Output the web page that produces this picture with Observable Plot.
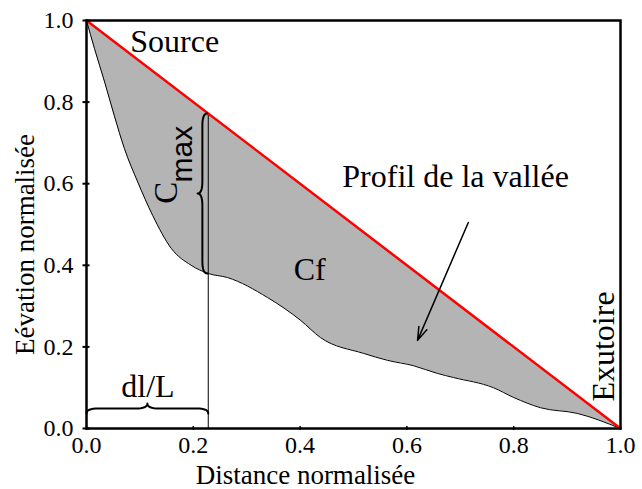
<!DOCTYPE html>
<html>
<head>
<meta charset="utf-8">
<script src="https://cdn.jsdelivr.net/npm/d3@7"></script>
<script src="https://cdn.jsdelivr.net/npm/@observablehq/plot@0.6"></script>
<style>
  html, body { margin: 0; padding: 0; background: #ffffff; }
  #chart svg { display: block; }
</style>
</head>
<body>
<div id="chart"></div>
<script>
// ---- Data ----
const distance  = [0, 0.015, 0.034, 0.052, 0.071, 0.096, 0.124, 0.159, 0.196, 0.228, 0.264, 0.339, 0.401, 0.438, 0.519, 0.564, 0.612, 0.657, 0.687, 0.762, 0.800, 0.850, 0.919, 1.0];
const elevation = [1.0, 0.931, 0.849, 0.767, 0.686, 0.604, 0.522, 0.441, 0.400, 0.380, 0.370, 0.321, 0.265, 0.223, 0.184, 0.167, 0.154, 0.135, 0.125, 0.100, 0.076, 0.051, 0.037, 0.0];
const sourceLineX = [0, 1];
const sourceLineY = [1, 0];
const xTicks = [0, 0.2, 0.4, 0.6, 0.8, 1.0];
const yTicks = [0, 0.2, 0.4, 0.6, 0.8, 1.0];
const dlRatio = 0.228;        // dl/L, position of maximal concavity
const cmaxLow = 0.380;        // profile elevation at dl/L

// straight line from source to outlet
const chord = x => sourceLineY[0] + (sourceLineY[1] - sourceLineY[0]) * (x - sourceLineX[0]) / (sourceLineX[1] - sourceLineX[0]);

const profile = distance.map((d, i) => ({x: d, y: elevation[i], c: chord(d)}));
const sourceLine = sourceLineX.map((x, i) => ({x, y: sourceLineY[i]}));

// curly brace generator: from s0 to s1 along the brace, depth h toward tip, end hook length a
function bracePoints(s0, s1, base, h, a, horizontal) {
  const pts = [];
  const L = s1 - s0, m = s0 + L / 2, dir = Math.sign(L);
  const quad = (p0, p1, p2) => { for (let k = 0; k <= 8; k++) { const t = k / 8;
      pts.push([(1-t)*(1-t)*p0[0] + 2*(1-t)*t*p1[0] + t*t*p2[0], (1-t)*(1-t)*p0[1] + 2*(1-t)*t*p1[1] + t*t*p2[1]]); } };
  quad([s0, 0], [s0, h/2], [s0 + dir*a, h/2]);
  pts.push([m - dir*a, h/2]);
  quad([m - dir*a, h/2], [m, h/2], [m, h]);
  quad([m, h], [m, h/2], [m + dir*a, h/2]);
  pts.push([s1 - dir*a, h/2]);
  quad([s1 - dir*a, h/2], [s1, h/2], [s1, 0]);
  return pts.map(([s, v]) => horizontal ? {x: s, y: base + v} : {x: base + v, y: s});
}
const braceDl = bracePoints(0, dlRatio, 0.037, 0.024, 0.022, true);
const braceCmax = bracePoints(cmaxLow, chord(dlRatio), dlRatio - 0.002, -0.018, 0.03, false);

const serif = "Liberation Serif, Times New Roman, serif";
const fmt = d3.format(".1f");

const chart = Plot.plot({
  width: 642,
  height: 489,
  marginLeft: 86,
  marginRight: 22,
  marginTop: 20,
  marginBottom: 61,
  x: {domain: [0, 1], axis: null},
  y: {domain: [0, 1], axis: null},
  marks: [
    Plot.areaY(profile, {x: "x", y1: "y", y2: "c", fill: "#b4b4b4", curve: "monotone-x"}),
    Plot.line(profile, {x: "x", y: "y", stroke: "#000", strokeWidth: 1, curve: "monotone-x"}),
    Plot.ruleX([dlRatio], {y1: 0, y2: chord(dlRatio), stroke: "#000", strokeWidth: 1}),
    Plot.line(sourceLine, {x: "x", y: "y", stroke: "#ff0000", strokeWidth: 2.5}),
    Plot.line(braceDl, {x: "x", y: "y", stroke: "#000", strokeWidth: 2}),
    Plot.line(braceCmax, {x: "x", y: "y", stroke: "#000", strokeWidth: 2}),
    Plot.arrow([{x1: 0.715, y1: 0.505, x2: 0.620, y2: 0.216}], {x1: "x1", y1: "y1", x2: "x2", y2: "y2", stroke: "#000", strokeWidth: 1.5, headLength: 14, headAngle: 36}),
    Plot.text(["Source"], {x: 0.082, y: 0.922, text: d => d, textAnchor: "start", lineAnchor: "bottom", fontSize: 32, fontFamily: serif}),
    Plot.text(["Profil de la vallée"], {x: 0.479, y: 0.591, text: d => d, textAnchor: "start", lineAnchor: "bottom", fontSize: 32, fontFamily: serif}),
    Plot.text(["Cf"], {x: 0.388, y: 0.365, text: d => d, textAnchor: "start", lineAnchor: "bottom", fontSize: 32, fontFamily: serif}),
    Plot.text(["dl/L"], {x: 0.115, y: 0.076, text: d => d, textAnchor: "middle", lineAnchor: "bottom", fontSize: 32, fontFamily: serif}),
    Plot.text(["Exutoire"], {x: 0.987, y: 0.201, text: d => d, rotate: -90, textAnchor: "middle", lineAnchor: "bottom", fontSize: 32, fontFamily: serif}),
    Plot.text(["C"], {x: 0.170, y: 0.551, text: d => d, rotate: -90, textAnchor: "start", lineAnchor: "bottom", fontSize: 33, fontFamily: serif}),
    Plot.text(["max"], {x: 0.1985, y: 0.603, text: d => d, rotate: -90, textAnchor: "start", lineAnchor: "bottom", fontSize: 30, fontFamily: "Liberation Sans, Arial, sans-serif"}),
    Plot.frame({stroke: "#000", strokeWidth: 2.5}),
    // ticks
    Plot.tickY(yTicks, {y: d => d, frameAnchor: "left", stroke: "#000", strokeWidth: 2, dx: -3.5, insetRight: 534 - 7}),
    Plot.tickX(xTicks, {x: d => d, stroke: "#000", strokeWidth: 1.5, dy: 2, insetTop: 408 - 4}),
    // tick labels
    Plot.text(yTicks, {y: d => d, text: d => fmt(d), frameAnchor: "left", dx: -13, textAnchor: "end", lineAnchor: "middle", fontSize: 24, fontFamily: serif}),
    Plot.text(xTicks, {x: d => d, text: d => fmt(d), frameAnchor: "bottom", dy: 7, textAnchor: "middle", lineAnchor: "top", fontSize: 24, fontFamily: serif}),
    // axis titles
    Plot.text(["Distance normalisée"], {frameAnchor: "bottom", dx: -48, dy: 55, text: d => d, textAnchor: "middle", lineAnchor: "bottom", fontSize: 27, fontFamily: serif}),
    Plot.text(["Eévation normalisée"], {frameAnchor: "left", dx: -53, dy: 20, text: d => d, rotate: -90, textAnchor: "middle", lineAnchor: "bottom", fontSize: 27, fontFamily: serif})
  ]
});
document.getElementById("chart").appendChild(chart);
</script>
</body>
</html>
